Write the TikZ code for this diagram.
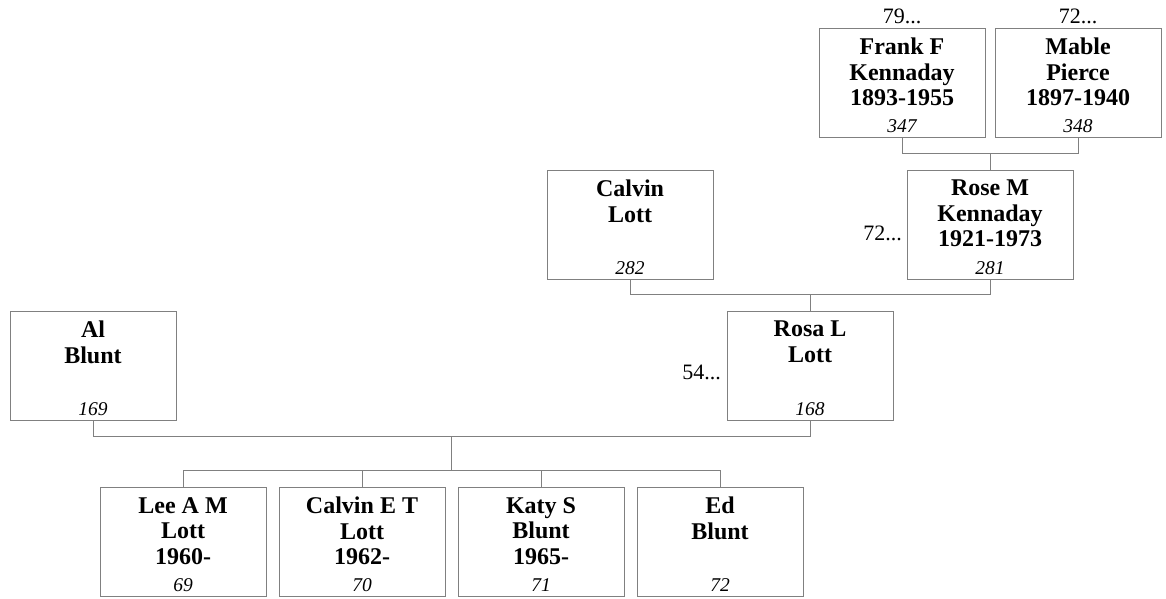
\documentclass[tikz,border=0pt]{standalone}
\usepackage{fontspec}
\setmainfont{Liberation Serif}
\usetikzlibrary{calc}
\definecolor{boxgray}{HTML}{808080}
\definecolor{linegray}{HTML}{808080}
\begin{document}
\begin{tikzpicture}[x=1pt,y=-1pt,
  pbox/.style={draw=boxgray, line width=1pt, minimum width=166pt, minimum height=109.5pt, anchor=north west, inner sep=0pt, outer sep=0pt},
  pname/.style={anchor=north, inner sep=0pt, align=center, font=\fontsize{24}{25.5}\selectfont\bfseries},
  pnum/.style={anchor=base, inner sep=0pt, font=\fontsize{19.5}{24}\selectfont\itshape},
  more/.style={inner sep=0pt, font=\fontsize{22}{26}\selectfont},
  link/.style={draw=linegray, line width=1pt}]
\fill[white] (0,0) rectangle (1166,598);
\useasboundingbox (0,0) rectangle (1166,598);

% generation 1
\node[pbox] (frank) at (819,28) {};
\node[pname] (frankname) at ([yshift=-10pt]frank.north) {Frank F\\Kennaday\\1893-1955};
\node[pnum] (franknum) at ([yshift=5pt]frank.south) {347};
\node[more, anchor=base] (frankmore) at ([yshift=5pt]frank.north) {79...};

\node[pbox] (mable) at (995,28) {};
\node[pname] (mablename) at ([yshift=-10pt]mable.north) {Mable\\Pierce\\1897-1940};
\node[pnum] (mablenum) at ([yshift=5pt]mable.south) {348};
\node[more, anchor=base] (mablemore) at ([yshift=5pt]mable.north) {72...};

% generation 2
\node[pbox] (calvin) at (547,170) {};
\node[pname] (calvinname) at ([yshift=-10pt]calvin.north) {Calvin\\Lott};
\node[pnum] (calvinnum) at ([yshift=5pt]calvin.south) {282};

\node[pbox] (rose) at (907,170) {};
\node[pname] (rosename) at ([yshift=-10pt]rose.north) {Rose M\\Kennaday\\1921-1973};
\node[pnum] (rosenum) at ([yshift=5pt]rose.south) {281};
\node[more, anchor=east] (rosemore) at ([xshift=-5pt,yshift=-9pt]rose.west) {72...};

% generation 3
\node[pbox] (al) at (10,311) {};
\node[pname] (alname) at ([yshift=-10pt]al.north) {Al\\Blunt};
\node[pnum] (alnum) at ([yshift=5pt]al.south) {169};

\node[pbox] (rosa) at (727,311) {};
\node[pname] (rosaname) at ([yshift=-10pt]rosa.north) {Rosa L\\Lott};
\node[pnum] (rosanum) at ([yshift=5pt]rosa.south) {168};
\node[more, anchor=east] (rosamore) at ([xshift=-6pt,yshift=-7pt]rosa.west) {54...};

% children
\node[pbox] (lee) at (100,487) {};
\node[pname] (leename) at ([yshift=-10pt]lee.north) {Lee A M\\Lott\\1960-};
\node[pnum] (leenum) at ([yshift=5pt]lee.south) {69};

\node[pbox] (cet) at (279,487) {};
\node[pname] (cetname) at ([yshift=-10pt]cet.north) {Calvin E T\\Lott\\1962-};
\node[pnum] (cetnum) at ([yshift=5pt]cet.south) {70};

\node[pbox] (katy) at (458,487) {};
\node[pname] (katyname) at ([yshift=-10pt]katy.north) {Katy S\\Blunt\\1965-};
\node[pnum] (katynum) at ([yshift=5pt]katy.south) {71};

\node[pbox] (ed) at (637,487) {};
\node[pname] (edname) at ([yshift=-10pt]ed.north) {Ed\\Blunt};
\node[pnum] (ednum) at ([yshift=5pt]ed.south) {72};

% connectors
\draw[link] (frank.south) -- ++(0,15.5) coordinate (fmj) -| (mable.south);
\draw[link] (rose.north) -- (rose.north |- fmj);

\draw[link] (calvin.south) -- ++(0,14.5) coordinate (crj) -| (rose.south);
\draw[link] (rosa.north) -- (rosa.north |- crj);

\draw[link] (al.south) -- ++(0,15.5) coordinate (alj) -| (rosa.south);
\path (rosa.south) ++(0,15.5) coordinate (rosaj);
\coordinate (fam) at ($(alj)!0.5!(rosaj)$);

\draw[link] (lee.north) -- ++(0,-17) coordinate (kidj) -| (ed.north);
\draw[link] (fam) -- (fam |- kidj);
\draw[link] (cet.north) -- (cet.north |- kidj);
\draw[link] (katy.north) -- (katy.north |- kidj);
\end{tikzpicture}
\end{document}
